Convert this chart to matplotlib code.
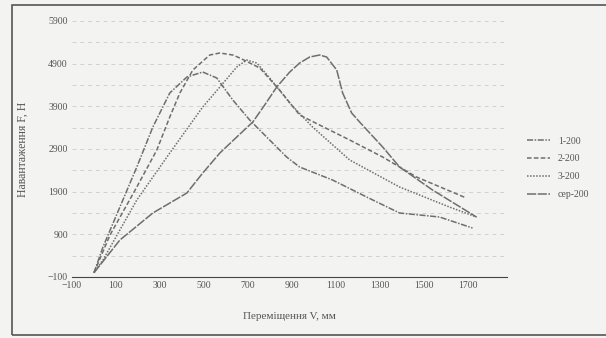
import matplotlib.pyplot as plt
from matplotlib.patches import Rectangle

# series (x - displacement, y - load)
x1 = [0, 41, 118, 195, 268, 345, 423, 495, 559, 632, 709, 786, 877, 936, 1086, 1241, 1391, 1573, 1723]
y1 = [0, 603, 1540, 2478, 3415, 4212, 4587, 4704, 4564, 4048, 3579, 3181, 2712, 2478, 2173, 1775, 1400, 1306, 1048]

x2 = [0, 73, 195, 286, 345, 391, 450, 527, 573, 632, 664, 755, 845, 936, 1027, 1164, 1314, 1468, 1695]
y2 = [0, 884, 2009, 2876, 3650, 4212, 4751, 5103, 5150, 5103, 5032, 4798, 4282, 3697, 3462, 3111, 2712, 2244, 1751]

x3 = [0, 41, 195, 345, 495, 573, 650, 695, 741, 800, 891, 995, 1164, 1391, 1618, 1741]
y3 = [0, 298, 1705, 2806, 3884, 4353, 4822, 4985, 4915, 4564, 3978, 3415, 2642, 2009, 1540, 1306]

x4 = [0, 118, 268, 423, 495, 573, 650, 723, 777, 832, 891, 936, 982, 1027, 1059, 1105, 1132, 1173, 1209, 1314, 1391, 1541, 1741]
y4 = [0, 767, 1400, 1869, 2337, 2806, 3181, 3533, 3931, 4353, 4704, 4915, 5056, 5103, 5056, 4751, 4212, 3743, 3533, 2947, 2478, 1939, 1306]

labels = ['1-200', '2-200', '3-200', 'сер-200']
x_ticks = [-100, 100, 300, 500, 700, 900, 1100, 1300, 1500, 1700]
y_ticks = [-100, 900, 1900, 2900, 3900, 4900, 5900]

plt.rcParams['font.family'] = ['Liberation Serif', 'DejaVu Serif']

fig = plt.figure(figsize=(6.06, 3.38), dpi=100)
fig.patch.set_facecolor('#f3f3f1')
# рамка діаграми
fig.patches.append(Rectangle((12/606, 3/338), 600/606, 330/338, transform=fig.transFigure,
                             fill=False, edgecolor='#555555', lw=1.2))

ax = fig.add_axes([72/606, 1-277/338, 435/606, 256/338])
ax.set_facecolor('#f3f3f1')

gray = '#6e6e6e'
ax.plot(x1, y1, color=gray, lw=1.1, ls=(0, (4, 1, 1, 1)), label=labels[0])
ax.plot(x2, y2, color=gray, lw=1.1, ls=(0, (3, 1.5)), label=labels[1])
ax.plot(x3, y3, color=gray, lw=1.1, ls=(0, (1, 1)), label=labels[2])
ax.plot(x4, y4, color=gray, lw=1.1, ls=(0, (6, 1)), label=labels[3])

ax.set_xlim(-100, 1880)
ax.set_ylim(-100, 5900)
ax.set_xticks(x_ticks)
ax.set_yticks(y_ticks)
ax.set_yticks(range(400, 5900, 1000), minor=True)
ax.grid(True, axis='y', which='both', color='#d0d0d0', lw=0.7, ls=(0, (4, 4)))
ax.tick_params(length=0, labelsize=7, labelcolor='#555555', pad=3)
ax.tick_params(axis='y', which='minor', length=0)

for s in ['top', 'right', 'left']:
    ax.spines[s].set_visible(False)
ax.spines['bottom'].set_color('#444444')
ax.spines['bottom'].set_linestyle((0, (5, 1)))

ax.set_xlabel('Переміщення V, мм', fontsize=8, color='#555555', labelpad=16)
ax.set_ylabel('Навантаження F, Н', fontsize=8.5, color='#555555', labelpad=14)

fig.legend(loc='upper left', bbox_to_anchor=(518/606, 1-128/338), frameon=False,
           fontsize=7, labelcolor='#555555', handlelength=2.4, labelspacing=0.9)

fig.savefig('out.png', dpi=100, facecolor=fig.get_facecolor())
